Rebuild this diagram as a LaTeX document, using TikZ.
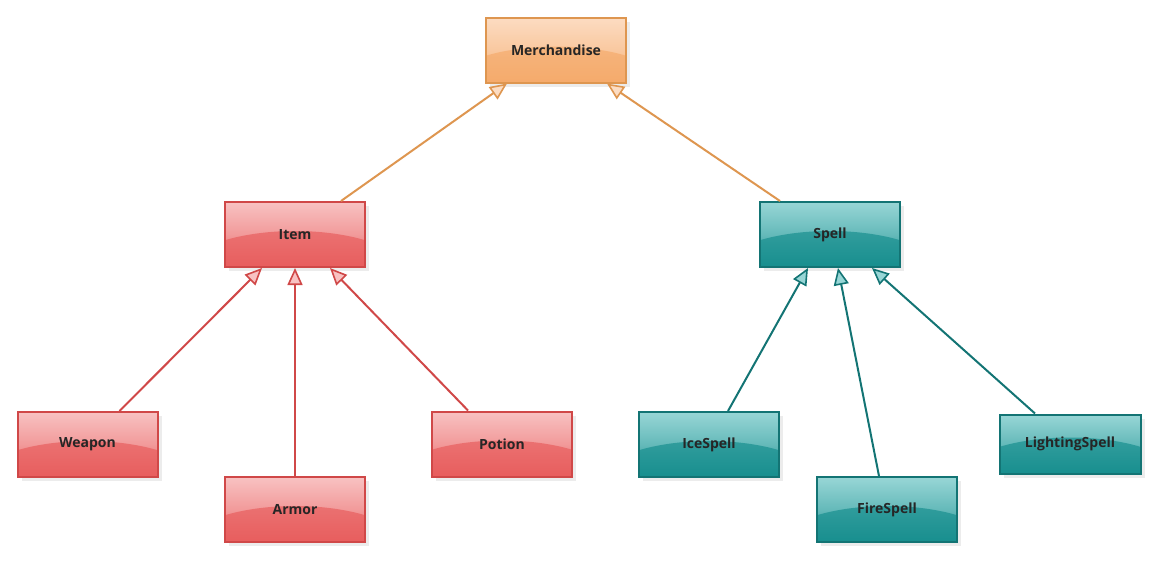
\documentclass[tikz,border=0pt]{standalone}
\usepackage{fontspec}
\setmainfont{Open Sans}
\usetikzlibrary{arrows.meta}
\usetikzlibrary{shadows}

\definecolor{orangeTop}{HTML}{FCDCC2}
\definecolor{orangeBot}{HTML}{F5AB6C}
\definecolor{orangeLine}{HTML}{DE9650}
\definecolor{redTop}{HTML}{F8C2C2}
\definecolor{redBot}{HTML}{E85E5E}
\definecolor{redLine}{HTML}{D04848}
\definecolor{tealTop}{HTML}{98D6D6}
\definecolor{tealBot}{HTML}{188F8F}
\definecolor{tealLine}{HTML}{137474}

\begin{document}
\begin{tikzpicture}[x=1pt,y=-1pt,
	box/.style n args={3}{rectangle,draw=#3,line width=2pt,minimum width=140pt,minimum height=65pt,
		top color=#1,bottom color=#2,middle color=#1!60!#2,
		path picture={\fill[#2,opacity=0.7] ([yshift=-6pt]path picture bounding box.south) ellipse (112pt and 42pt);},
		drop shadow={opacity=0.15,shadow xshift=4pt,shadow yshift=-4pt},
		font=\fontsize{14}{16}\selectfont\bfseries,text=black!85},
	inherit/.style n args={2}{draw=#1,line width=2pt,-{Triangle[open,fill=#2,length=17pt,width=15pt,line width=1.6pt]}}]
	\useasboundingbox (0,0) rectangle (1160,563);
	
	%TOP
	\node[box={orangeTop}{orangeBot}{orangeLine}] (merch) at (556,50) {Merchandise};
	
	%MIDDLE
	\node[box={redTop}{redBot}{redLine}] (item) at (295,234.5) {Item};
	\node[box={tealTop}{tealBot}{tealLine}] (spell) at (830,234.5) {Spell};
	
	%BOTTOM
	\node[box={redTop}{redBot}{redLine}] (weapon) at (87.5,444.5) {Weapon};
	\node[box={redTop}{redBot}{redLine}] (armor) at (295,509.5) {Armor};
	\node[box={redTop}{redBot}{redLine}] (potion) at (502,444) {Potion};
	\node[box={tealTop}{tealBot}{tealLine}] (ice) at (709,444.5) {IceSpell};
	\node[box={tealTop}{tealBot}{tealLine}] (fire) at (887,509.5) {FireSpell};
	\node[box={tealTop}{tealBot}{tealLine},minimum width=141pt,minimum height=59pt] (light) at (1070,444) {LightingSpell};
	
	%connectors
	\draw[inherit={orangeLine}{orangeTop}] ([xshift=46pt]item.north) -- ([xshift=-49pt]merch.south);
	\draw[inherit={orangeLine}{orangeTop}] ([xshift=-50pt]spell.north) -- ([xshift=51pt]merch.south);
	%
	\draw[inherit={redLine}{redTop}] ([xshift=32pt]weapon.north) -- ([xshift=-33pt]item.south);
	\draw[inherit={redLine}{redTop}] (armor.north) -- (item.south);
	\draw[inherit={redLine}{redTop}] ([xshift=-34pt]potion.north) -- ([xshift=35pt]item.south);
	%
	\draw[inherit={tealLine}{tealTop}] ([xshift=19pt]ice.north) -- ([xshift=-22pt]spell.south);
	\draw[inherit={tealLine}{tealTop}] ([xshift=-8pt]fire.north) -- ([xshift=8pt]spell.south);
	\draw[inherit={tealLine}{tealTop}] ([xshift=-35pt]light.north) -- ([xshift=42pt]spell.south);
\end{tikzpicture}
\end{document}
